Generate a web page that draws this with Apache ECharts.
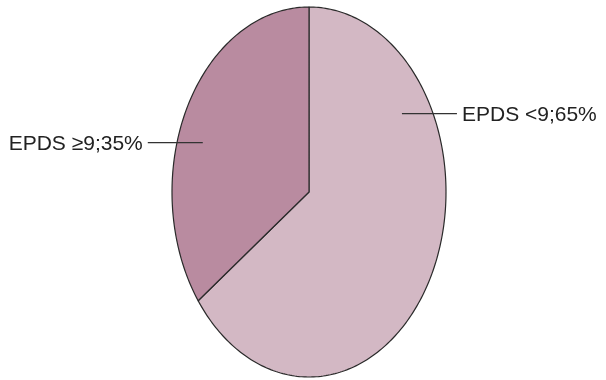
<!DOCTYPE html>
<html>
<head>
<meta charset="utf-8">
<script src="https://cdn.jsdelivr.net/npm/echarts@6/dist/echarts.min.js"></script>
<style>
  html, body { margin: 0; padding: 0; background: #fff; }
  #chart { width: 606px; height: 380px; }
</style>
</head>
<body>
<div id="chart"></div>
<script>
// data
const categories = ['EPDS <9', 'EPDS ≥9']
const percents = [65, 35]
const colors = ['#d3b8c4', '#b98ba0']

// ellipse layout (px)
const cx = 309
const cy = 192
const rx = 137
const ry = 185
// label anchor inside slice: [parametric angle deg clockwise from top, radius fraction, side]
const labelAnchors = [[58, 0.8, 1], [-71, 0.82, -1]]

const total = percents.reduce((a, b) => a + b, 0)

function pt(deg, f) {
  const t = deg * Math.PI / 180
  return [cx + rx * f * Math.sin(t), cy - ry * f * Math.cos(t)]
}

const chart = echarts.init(document.getElementById('chart'))

chart.setOption({
  animation: false,
  series: [{
    type: 'custom',
    coordinateSystem: 'none',
    data: percents.map((v, i) => [i, v]),
    renderItem(params, api) {
      const i = params.dataIndex
      let start = 0
      for (let k = 0; k < i; k++) start += percents[k] / total * 360
      const end = start + percents[i] / total * 360
      const points = [[cx, cy]]
      for (let a = start; a < end; a += 1) points.push(pt(a, 1))
      points.push(pt(end, 1))

      const [ang, f, side] = labelAnchors[i]
      const p0 = pt(ang, f)
      const p1 = [p0[0] + side * 55, p0[1]]
      const pct = Math.round(percents[i] / total * 100)
      return {
        type: 'group',
        children: [{
          type: 'polygon',
          shape: { points },
          style: { fill: colors[i], stroke: '#2a2a2a', lineWidth: 1.2, lineJoin: 'round' }
        }, {
          type: 'line',
          z2: 10,
          shape: { x1: p0[0], y1: p0[1], x2: p1[0], y2: p1[1] },
          style: { stroke: '#333', lineWidth: 1.2 }
        }, {
          type: 'text',
          z2: 10,
          x: p1[0] + side * 5,
          y: p1[1] + 1.5,
          style: {
            text: categories[i] + ';' + pct + '%',
            fill: '#222',
            font: '21px "Liberation Sans", Arial, sans-serif',
            align: side > 0 ? 'left' : 'right',
            verticalAlign: 'middle'
          }
        }]
      }
    }
  }]
})
</script>
</body>
</html>
